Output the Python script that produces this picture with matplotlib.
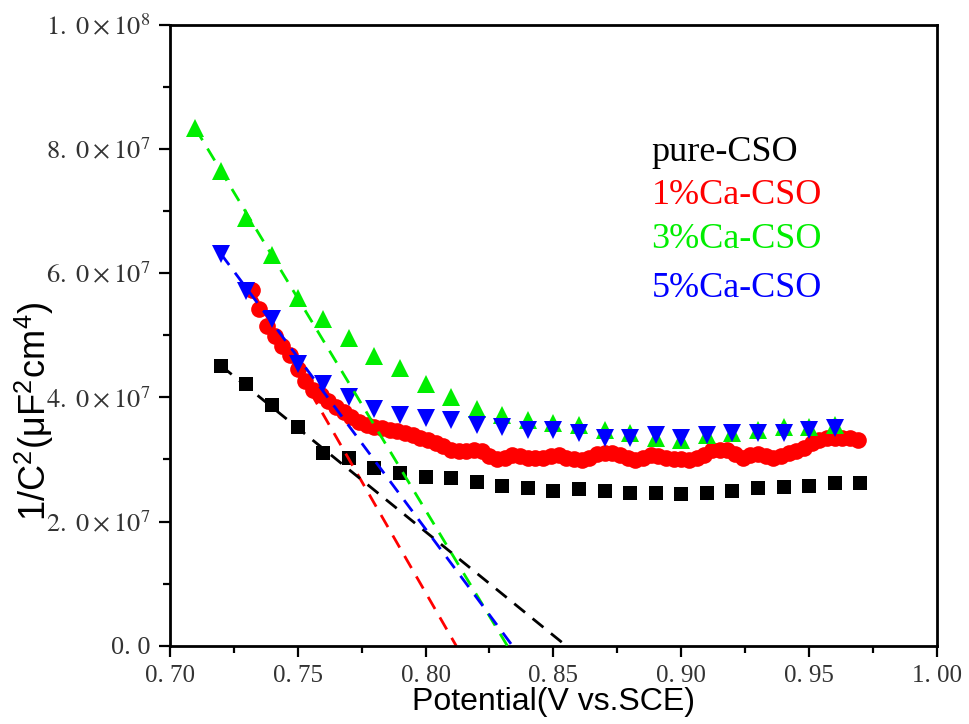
import matplotlib
matplotlib.use("Agg")
import matplotlib.pyplot as plt
from matplotlib.ticker import FuncFormatter, MultipleLocator

# Mott-Schottky data, 1/C^2 in units of 1e7
PURE_X = [0.72, 0.73, 0.74, 0.75, 0.76, 0.77, 0.78, 0.79, 0.80, 0.81, 0.82, 0.83, 0.84,
          0.85, 0.86, 0.87, 0.88, 0.89, 0.90, 0.91, 0.92, 0.93, 0.94, 0.95, 0.96, 0.97]
PURE_Y = [4.51, 4.22, 3.87, 3.53, 3.11, 3.02, 2.87, 2.78, 2.71, 2.70, 2.63, 2.58, 2.54,
          2.50, 2.52, 2.50, 2.46, 2.46, 2.44, 2.46, 2.49, 2.54, 2.55, 2.57, 2.62, 2.62]

CA1_X = [0.732, 0.735, 0.738, 0.741, 0.744, 0.747, 0.750, 0.753, 0.756, 0.759, 0.762,
         0.765, 0.768, 0.771, 0.774, 0.777, 0.780, 0.783, 0.786, 0.789, 0.792, 0.795,
         0.798, 0.801, 0.804, 0.807, 0.810, 0.813, 0.816, 0.819, 0.822, 0.825, 0.828,
         0.831, 0.834, 0.837, 0.840, 0.843, 0.846, 0.849, 0.852, 0.855, 0.858, 0.861,
         0.864, 0.867, 0.870, 0.873, 0.876, 0.879, 0.882, 0.885, 0.888, 0.891, 0.894,
         0.897, 0.900, 0.903, 0.906, 0.909, 0.912, 0.915, 0.918, 0.921, 0.924, 0.927,
         0.930, 0.933, 0.936, 0.939, 0.942, 0.945, 0.948, 0.951, 0.954, 0.957, 0.960,
         0.963, 0.966, 0.969]
CA1_Y = [5.73, 5.43, 5.15, 4.98, 4.83, 4.68, 4.45, 4.27, 4.11, 4.03, 3.94,
         3.85, 3.76, 3.68, 3.61, 3.56, 3.53, 3.50, 3.47, 3.45, 3.42, 3.39,
         3.35, 3.31, 3.26, 3.21, 3.15, 3.13, 3.13, 3.15, 3.13, 3.05, 3.00,
         3.02, 3.07, 3.05, 3.02, 3.03, 3.02, 3.05, 3.07, 3.03, 3.00, 2.99,
         3.02, 3.08, 3.11, 3.10, 3.07, 3.02, 2.99, 3.02, 3.07, 3.05, 3.02,
         3.00, 3.00, 2.99, 3.02, 3.07, 3.15, 3.16, 3.15, 3.08, 3.03, 3.07,
         3.08, 3.05, 3.03, 3.05, 3.10, 3.13, 3.19, 3.26, 3.31, 3.34, 3.35,
         3.34, 3.34, 3.32]

CA3_X = [0.71, 0.72, 0.73, 0.74, 0.75, 0.76, 0.77, 0.78, 0.79, 0.80, 0.81, 0.82, 0.83,
         0.84, 0.85, 0.86, 0.87, 0.88, 0.89, 0.90, 0.91, 0.92, 0.93, 0.94, 0.95, 0.96]
CA3_Y = [8.33, 7.64, 6.89, 6.29, 5.60, 5.26, 4.96, 4.67, 4.48, 4.22, 4.00, 3.82, 3.71,
         3.63, 3.58, 3.55, 3.47, 3.42, 3.35, 3.32, 3.39, 3.42, 3.47, 3.52, 3.52, 3.55]

CA5_X = [0.72, 0.73, 0.74, 0.75, 0.76, 0.77, 0.78, 0.79, 0.80, 0.81, 0.82, 0.83, 0.84,
         0.85, 0.86, 0.87, 0.88, 0.89, 0.90, 0.91, 0.92, 0.93, 0.94, 0.95, 0.96]
CA5_Y = [6.31, 5.71, 5.26, 4.54, 4.22, 4.00, 3.82, 3.71, 3.66, 3.63, 3.55, 3.52, 3.47,
         3.47, 3.42, 3.35, 3.34, 3.39, 3.35, 3.39, 3.42, 3.42, 3.43, 3.47, 3.50]

# linear fits: start x, start y (1e7), x-intercept (flat-band potential)
FIT_X0 = [0.72, 0.732, 0.71, 0.72]
FIT_Y0 = [4.51, 5.73, 8.33, 6.31]
FIT_XINT = [0.855, 0.812, 0.832, 0.834]

LABELS = ["pure-CSO", "1%Ca-CSO", "3%Ca-CSO", "5%Ca-CSO"]
COLORS = ["#000000", "#ff0000", "#00ee00", "#0000ff"]
MARKERS = ["s", "o", "^", "v"]
SIZES = [10.5, 12, 13, 13]

plt.rcParams["mathtext.fontset"] = "stix"

fig = plt.figure(figsize=(9.7, 7.24), dpi=100)
ax = fig.add_axes([0.175, 0.108, 0.791, 0.858])

series = [(PURE_X, PURE_Y), (CA1_X, CA1_Y), (CA3_X, CA3_Y), (CA5_X, CA5_Y)]
for i, (xs, ys) in enumerate(series):
    ax.plot([FIT_X0[i], FIT_XINT[i]], [FIT_Y0[i] * 1e7, 0], color=COLORS[i],
            linestyle=(0, (5, 3.5)), linewidth=2, zorder=3 if i != 1 else 2)
    ax.plot(xs, [v * 1e7 for v in ys], linestyle="none", marker=MARKERS[i],
            markersize=SIZES[i], color=COLORS[i], markeredgewidth=0, zorder=2)

ax.set_xlim(0.70, 1.00)
ax.set_ylim(0, 1e8)
ax.xaxis.set_major_locator(MultipleLocator(0.05))
ax.xaxis.set_minor_locator(MultipleLocator(0.025))
ax.yaxis.set_major_locator(MultipleLocator(2e7))
ax.yaxis.set_minor_locator(MultipleLocator(1e7))


def xfmt(v, _):
    s = f"{v:.2f}"
    return s.replace(".", ". ")


def yfmt(v, _):
    if v == 0:
        return "0. 0"
    e = int(f"{v:.1e}".split("e")[1])
    m = v / 10 ** e
    return rf"${m:.0f}.\ 0\times10^{{{e}}}$"


ax.xaxis.set_major_formatter(FuncFormatter(xfmt))
ax.yaxis.set_major_formatter(FuncFormatter(yfmt))
ax.tick_params(axis="both", which="major", length=8, width=1.6,
               direction="out", top=False, right=False, pad=6, colors="#000000")
ax.tick_params(axis="x", labelsize=18)
ax.tick_params(axis="y", labelsize=19)
ax.tick_params(axis="both", which="minor", length=5, width=1.6, direction="out",
               top=False, right=False)
ax.tick_params(axis="both", labelcolor="#333333")
for lab in ax.get_xticklabels() + ax.get_yticklabels():
    lab.set_family("Liberation Serif")
for sp in ax.spines.values():
    sp.set_linewidth(2)

ax.set_xlabel("Potential(V vs.SCE)", fontsize=23, family="Liberation Sans", labelpad=0)
ax.set_ylabel("1/C$^\\mathregular{2}$(μF$^\\mathregular{2}$cm$^\\mathregular{4}$)",
              fontsize=26, family="Liberation Sans")
ax.yaxis.set_label_coords(-0.150, 0.378)

ypos = [0.794, 0.725, 0.654, 0.576]
for i, lab in enumerate(LABELS):
    ax.text(0.628, ypos[i], lab, transform=ax.transAxes, color=COLORS[i],
            fontsize=26, family="Liberation Serif", va="center", ha="left")

fig.savefig("out.png", dpi=100, facecolor="white")
